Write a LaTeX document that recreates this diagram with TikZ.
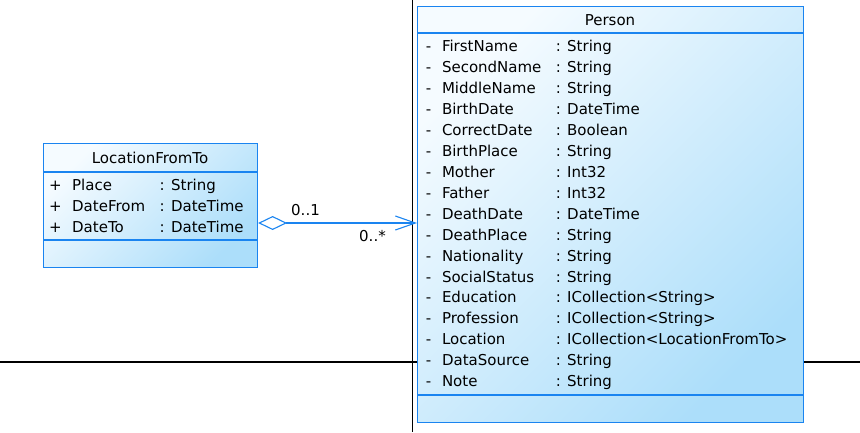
\documentclass[tikz,border=0pt]{standalone}
\usepackage{fontspec}
\setmainfont{DejaVu Sans}
\usetikzlibrary{arrows.meta}
\definecolor{umlborder}{RGB}{26,132,240}
\definecolor{umllight}{RGB}{245,251,255}
\definecolor{umldark}{RGB}{172,222,250}
\begin{document}
\begin{tikzpicture}[x=1bp,y=-1bp,
  umlbox/.style={draw=umlborder,line width=1.1bp,anchor=north west,inner sep=0pt,
    top color=umllight,bottom color=umldark,shading angle=45},
  sepline/.style={draw=umlborder,line width=1.1bp},
  axisline/.style={draw=black,line width=1.1bp},
  txt/.style={inner sep=0pt,font=\fontsize{15bp}{17bp}\selectfont,text=black},
  assoc/.style={draw=umlborder,line width=1.1bp,
    {Diamond[open,length=29bp,width=14bp]}-{Straight Barb[length=20bp,width=14bp]}}]
\useasboundingbox (0,0) rectangle (860,432);
% background axes
\draw[axisline] (0,362) -- (860,362);
\draw[axisline] (412.5,0) -- (412.5,432);
% Person class
\node[umlbox,minimum width=386bp,minimum height=416bp] (person) at (417,6) {};
\draw[sepline] (person.west |- 0,33) -- (person.east |- 0,33);
\draw[sepline] (person.west |- 0,395) -- (person.east |- 0,395);
\node[txt,anchor=base] (ptitle) at (610,25.5) {Person};
\foreach \n/\t [count=\i from 0] in {FirstName/String,SecondName/String,MiddleName/String,BirthDate/DateTime,CorrectDate/Boolean,BirthPlace/String,Mother/Int32,Father/Int32,DeathDate/DateTime,DeathPlace/String,Nationality/String,SocialStatus/String,Education/ICollection<String>,Profession/ICollection<String>,Location/ICollection<LocationFromTo>,DataSource/String,Note/String}{
  \pgfmathsetmacro{\yy}{51.7+20.94*\i}
  \node[txt,anchor=base] (pv\i) at (428.5,\yy) {-};
  \node[txt,anchor=base west] (pn\i) at (441.8,\yy) {\n};
  \node[txt,anchor=base west] (pt\i) at (555.6,\yy) {: \t};
}
% LocationFromTo class
\node[umlbox,minimum width=214bp,minimum height=124bp] (loc) at (43,143) {};
\draw[sepline] (loc.west |- 0,172) -- (loc.east |- 0,172);
\draw[sepline] (loc.west |- 0,240) -- (loc.east |- 0,240);
\node[txt,anchor=base] (ltitle) at (150,163.3) {LocationFromTo};
\foreach \n/\t [count=\i from 0] in {Place/String,DateFrom/DateTime,DateTo/DateTime}{
  \pgfmathsetmacro{\yy}{190+21*\i}
  \node[txt,anchor=base] (lv\i) at (55.4,\yy) {+};
  \node[txt,anchor=base west] (ln\i) at (72,\yy) {\n};
  \node[txt,anchor=base west] (lt\i) at (159.5,\yy) {: \t};
}
% association
\draw[assoc] (loc.east |- 0,223) -- (person.west |- 0,223);
\node[txt,anchor=base west] (m1) at (291,215.5) {0..1};
\node[txt,anchor=base west] (m2) at (359,241) {0..*};
\end{tikzpicture}
\end{document}
